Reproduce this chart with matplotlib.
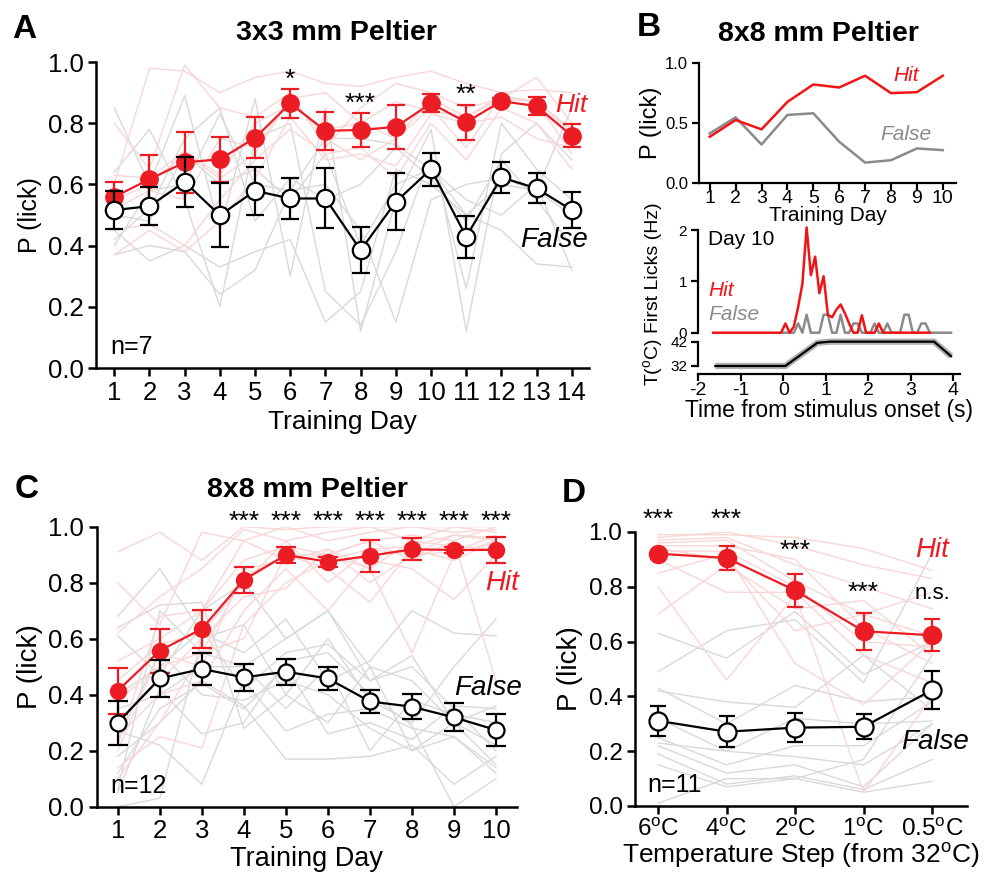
import matplotlib
matplotlib.use('Agg')
import matplotlib.pyplot as plt
import numpy as np

plt.rcParams['font.family'] = ['Liberation Sans', 'DejaVu Sans']
plt.rcParams['mathtext.fontset'] = 'custom'
plt.rcParams['mathtext.rm'] = 'Liberation Sans'
plt.rcParams['mathtext.it'] = 'Liberation Sans:italic'
plt.rcParams['axes.unicode_minus'] = False

RED = '#ec1c24'
PINK = '#f9d6d6'
LGRAY = '#d9d9d9'
BRED = '#f01414'
BGRAY = '#8a8a8a'

# ---- panel A: 3x3 mm Peltier, 14 training days, n=7 ----
days_a = list(range(1, 15))
hit_a = [0.559, 0.617, 0.672, 0.682, 0.752, 0.865, 0.775, 0.778, 0.788, 0.865, 0.803, 0.872, 0.856, 0.759]
hit_a_err = [0.05, 0.079, 0.10, 0.074, 0.067, 0.047, 0.062, 0.055, 0.071, 0.03, 0.057, 0.01, 0.03, 0.038]
false_a = [0.516, 0.529, 0.608, 0.499, 0.579, 0.554, 0.554, 0.385, 0.543, 0.650, 0.429, 0.623, 0.587, 0.516]
false_a_err = [0.063, 0.063, 0.082, 0.104, 0.079, 0.068, 0.098, 0.076, 0.093, 0.054, 0.068, 0.051, 0.049, 0.058]
hit_a_mice = [
    [0.60, 0.98, 0.97, 0.90, 0.95, 0.97, 0.93, 0.92, 0.95, 0.97, 0.93, 0.90, 0.91, 0.90],
    [0.80, 0.65, 0.99, 0.85, 0.82, 0.90, 0.72, 0.85, 0.93, 0.90, 0.85, 0.88, 0.95, 0.80],
    [0.55, 0.60, 0.70, 0.62, 0.70, 0.88, 0.90, 0.80, 0.75, 0.85, 0.72, 0.89, 0.87, 0.70],
    [0.45, 0.47, 0.40, 0.55, 0.68, 0.78, 0.70, 0.72, 0.62, 0.80, 0.68, 0.85, 0.80, 0.65],
    [0.37, 0.45, 0.38, 0.48, 0.62, 0.82, 0.68, 0.70, 0.66, 0.83, 0.80, 0.82, 0.75, 0.72],
    [0.52, 0.58, 0.55, 0.75, 0.72, 0.88, 0.75, 0.68, 0.75, 0.88, 0.82, 0.88, 0.87, 0.78],
    [0.63, 0.62, 0.71, 0.63, 0.80, 0.86, 0.78, 0.80, 0.87, 0.84, 0.82, 0.89, 0.87, 0.77],
]
false_a_mice = [
    [0.85, 0.60, 0.89, 0.45, 0.88, 0.30, 0.85, 0.12, 0.55, 0.78, 0.12, 0.70, 0.80, 0.68],
    [0.64, 0.78, 0.55, 0.20, 0.75, 0.80, 0.25, 0.14, 0.38, 0.70, 0.26, 0.80, 0.65, 0.55],
    [0.45, 0.35, 0.40, 0.33, 0.38, 0.42, 0.15, 0.25, 0.65, 0.60, 0.50, 0.45, 0.34, 0.33],
    [0.37, 0.40, 0.38, 0.24, 0.32, 0.58, 0.60, 0.45, 0.15, 0.55, 0.60, 0.62, 0.58, 0.50],
    [0.42, 0.52, 0.75, 0.85, 0.48, 0.62, 0.55, 0.60, 0.72, 0.62, 0.48, 0.68, 0.55, 0.40],
    [0.50, 0.48, 0.70, 0.60, 0.65, 0.55, 0.70, 0.40, 0.60, 0.65, 0.55, 0.50, 0.60, 0.32],
    [0.40, 0.58, 0.60, 0.83, 0.60, 0.58, 0.75, 0.75, 0.73, 0.65, 0.50, 0.60, 0.58, 0.85],
]
stars_a = {6: ('*', 0.957), 8: ('***', 0.878), 11: ('**', 0.908)}

# ---- panel B: single mouse, 8x8 mm ----
days_b = list(range(1, 11))
hit_b = [0.385, 0.525, 0.447, 0.676, 0.821, 0.796, 0.894, 0.749, 0.757, 0.894]
false_b = [0.413, 0.547, 0.321, 0.567, 0.581, 0.344, 0.170, 0.190, 0.288, 0.274]

# first-lick histograms on day 10 (bin centres in s)
lick_hit_t = np.round(np.arange(-1.65, 3.5, 0.1), 2)
lick_hit = [0] * 17 + [0.18, 0, 0.12, 0.5, 0.95, 2.05, 1.12, 1.48, 0.77, 1.1,
                       0.35, 0.3, 0.45, 0.55, 0.38, 0.18, 0, 0, 0.34, 0, 0, 0, 0.18] + [0] * 12
lick_false_t = np.round(np.arange(-0.05, 4.0, 0.1), 2)
lick_false = [0, 0, 0, 0, 0.18, 0, 0.35, 0, 0, 0, 0.35, 0.35, 0, 0, 0.35, 0, 0, 0.18, 0.18, 0,
              0, 0, 0.18, 0, 0, 0.18, 0, 0, 0, 0.35, 0.35, 0, 0, 0.18, 0.18, 0, 0, 0, 0, 0, 0]
temp_t = [-1.6, 0.05, 0.8, 1.1, 3.55, 3.95]
temp_c = [32, 32, 41.5, 42, 42, 36]

# ---- panel C: 8x8 mm Peltier, 10 days, n=12 ----
days_c = list(range(1, 11))
hit_c = [0.414, 0.557, 0.635, 0.810, 0.899, 0.875, 0.896, 0.919, 0.917, 0.917]
hit_c_err = [0.082, 0.079, 0.067, 0.047, 0.03, 0.018, 0.056, 0.039, 0.01, 0.045]
false_c = [0.300, 0.458, 0.492, 0.462, 0.482, 0.458, 0.376, 0.357, 0.319, 0.274]
false_c_err = [0.079, 0.066, 0.056, 0.048, 0.047, 0.042, 0.041, 0.045, 0.05, 0.056]
hit_c_mice = [
    [0.91, 0.98, 0.88, 1.00, 0.99, 1.00, 1.00, 1.00, 1.00, 1.00],
    [0.80, 0.65, 0.98, 0.95, 1.00, 0.95, 0.98, 1.00, 0.98, 0.99],
    [0.62, 0.75, 0.85, 0.99, 0.95, 0.98, 1.00, 0.95, 1.00, 0.98],
    [0.52, 0.60, 0.70, 0.88, 0.93, 0.90, 0.95, 0.97, 0.95, 1.00],
    [0.45, 0.58, 0.62, 0.80, 0.95, 0.80, 0.92, 0.90, 0.97, 0.96],
    [0.38, 0.50, 0.55, 0.82, 0.90, 0.85, 0.73, 0.92, 0.88, 0.95],
    [0.30, 0.45, 0.60, 0.75, 0.78, 0.92, 0.85, 0.95, 0.93, 0.92],
    [0.25, 0.40, 0.45, 0.70, 0.85, 0.70, 0.88, 0.85, 0.74, 0.90],
    [0.20, 0.55, 0.50, 0.85, 0.88, 0.90, 0.95, 0.88, 0.95, 0.45],
    [0.14, 0.25, 0.21, 0.65, 0.80, 0.88, 0.92, 0.93, 0.97, 0.95],
    [0.10, 0.30, 0.55, 0.60, 0.90, 0.90, 0.85, 0.55, 0.90, 0.95],
    [0.22, 0.68, 0.70, 0.95, 0.88, 0.92, 0.80, 0.90, 0.91, 0.97],
]
false_c_mice = [
    [0.68, 0.85, 0.62, 0.55, 0.67, 0.45, 0.52, 0.70, 0.62, 0.61],
    [0.64, 0.72, 0.73, 0.28, 0.40, 0.60, 0.38, 0.30, 0.50, 0.67],
    [0.61, 0.47, 0.70, 0.80, 0.60, 0.70, 0.50, 0.45, 0.30, 0.36],
    [0.40, 0.50, 0.63, 0.42, 0.55, 0.58, 0.45, 0.54, 0.30, 0.22],
    [0.35, 0.40, 0.50, 0.50, 0.35, 0.50, 0.20, 0.38, 0.33, 0.30],
    [0.27, 0.22, 0.08, 0.45, 0.27, 0.33, 0.35, 0.28, 0.25, 0.12],
    [0.24, 0.55, 0.40, 0.38, 0.45, 0.40, 0.28, 0.20, 0.25, 0.14],
    [0.18, 0.30, 0.45, 0.36, 0.17, 0.17, 0.18, 0.22, 0.08, 0.18],
    [0.12, 0.35, 0.44, 0.35, 0.50, 0.26, 0.30, 0.24, 0.36, 0.35],
    [0.05, 0.42, 0.26, 0.30, 0.52, 0.55, 0.40, 0.29, 0.00, 0.10],
    [0.00, 0.03, 0.60, 0.65, 0.40, 0.30, 0.50, 0.20, 0.30, 0.15],
    [0.06, 0.70, 0.55, 0.50, 0.60, 0.70, 0.45, 0.50, 0.35, 0.20],
]

# ---- panel D: temperature steps, n=11 ----
steps_d = ['6$^{\\mathrm{o}}$C', '4$^{\\mathrm{o}}$C', '2$^{\\mathrm{o}}$C', '1$^{\\mathrm{o}}$C', '0.5$^{\\mathrm{o}}$C']
hit_d = [0.921, 0.905, 0.787, 0.638, 0.623]
hit_d_err = [0.01, 0.043, 0.059, 0.068, 0.058]
false_d = [0.311, 0.271, 0.286, 0.289, 0.423]
false_d_err = [0.054, 0.057, 0.054, 0.045, 0.069]
hit_d_mice = [
    [0.99, 0.99, 0.98, 0.94, 0.86],
    [0.98, 1.00, 0.95, 0.88, 0.83],
    [0.97, 0.98, 0.88, 0.80, 0.72],
    [0.96, 0.97, 0.82, 0.70, 0.62],
    [0.95, 0.95, 0.90, 0.65, 0.52],
    [0.94, 0.90, 0.64, 0.70, 0.78],
    [0.93, 0.93, 0.80, 0.60, 0.58],
    [0.90, 0.78, 0.78, 0.55, 0.45],
    [0.85, 0.92, 0.52, 0.37, 0.60],
    [0.80, 0.46, 0.77, 0.05, 0.40],
    [0.70, 0.88, 0.72, 0.75, 0.55],
]
false_d_mice = [
    [0.63, 0.54, 0.71, 0.48, 0.60],
    [0.49, 0.64, 0.68, 0.45, 0.92],
    [0.43, 0.30, 0.44, 0.38, 0.40],
    [0.42, 0.38, 0.36, 0.55, 0.35],
    [0.32, 0.20, 0.32, 0.30, 0.31],
    [0.25, 0.15, 0.22, 0.22, 0.38],
    [0.23, 0.20, 0.18, 0.15, 0.30],
    [0.22, 0.12, 0.15, 0.07, 0.30],
    [0.19, 0.08, 0.11, 0.06, 0.17],
    [0.15, 0.07, 0.10, 0.05, 0.09],
    [0.01, 0.10, 0.10, 0.17, 0.55],
]
stars_d = [('***', 1.061), ('***', 1.061), ('***', 0.948), ('***', 0.793), ('n.s.', 0.775)]

W, H = 984, 873
STAR_DROP = 0.016   # asterisks sit high in the text box


def box(x0, y_top, x1, y_bot):
    # pixel box -> figure fraction
    return [x0 / W, 1 - y_bot / H, (x1 - x0) / W, (y_bot - y_top) / H]


def ftext(fig, x, y, s, **kw):
    fig.text(x / W, 1 - y / H, s, **kw)


def style(ax, fs, lw=1.8, length=6):
    for s in ['top', 'right']:
        ax.spines[s].set_visible(False)
    for s in ['left', 'bottom']:
        ax.spines[s].set_linewidth(lw)
    ax.tick_params(width=lw, length=length, labelsize=fs, direction='out', pad=3)


def mean_plot(ax, x, hit, hit_err, fa, fa_err, ms, cap):
    ax.errorbar(x, hit, yerr=hit_err, fmt='-o', color=RED, mfc=RED, mec=RED, ms=ms,
                lw=1.6, elinewidth=1.6, capsize=cap, capthick=1.6, zorder=3)
    ax.errorbar(x, fa, yerr=fa_err, fmt='-o', color='k', mfc='white', mec='k', mew=1.6, ms=ms,
                lw=1.6, elinewidth=1.6, capsize=cap, capthick=1.6, zorder=4)


fig = plt.figure(figsize=(W / 100, H / 100), dpi=100)

# ---------------- A ----------------
ax1 = fig.add_axes(box(96, 62, 589, 368))
for m in false_a_mice:
    ax1.plot(days_a, m, color=LGRAY, lw=1.0, zorder=1)
for m in hit_a_mice:
    ax1.plot(days_a, m, color=PINK, lw=1.0, zorder=1)
mean_plot(ax1, days_a, hit_a, hit_a_err, false_a, false_a_err, 12.5, 6.5)
ax1.set_xlim(0.48, 14.49)
ax1.set_ylim(0, 1)
ax1.set_xticks(days_a)
ax1.set_yticks([0, 0.2, 0.4, 0.6, 0.8, 1.0])
ax1.set_yticklabels(['0.0', '0.2', '0.4', '0.6', '0.8', '1.0'])
style(ax1, 18.5)
ax1.set_xlabel('Training Day', fontsize=19, labelpad=4)
ax1.set_ylabel('P (lick)', fontsize=18, labelpad=4)
for d, (s, y) in stars_a.items():
    ax1.text(d, y - STAR_DROP, s, ha='center', va='center', fontsize=19)
ax1.text(14.45, 0.859, 'Hit', color=RED, style='italic', fontsize=19, ha='right', va='center')
ax1.text(14.45, 0.418, 'False', color='k', style='italic', fontsize=20, ha='right', va='center')
ax1.text(0.88, 0.045, 'n=7', fontsize=18, ha='left', va='baseline')
ftext(fig, 12, 29, 'A', fontsize=24, fontweight='bold', ha='left', va='center')
ftext(fig, 336, 33, '3x3 mm Peltier', fontsize=20.5, fontweight='bold', ha='center', va='center')

# ---------------- B top ----------------
ax2 = fig.add_axes(box(699, 63, 956, 183))
ax2.plot(days_b, false_b, color=BGRAY, lw=1.8)
ax2.plot(days_b, hit_b, color=BRED, lw=1.8)
ax2.set_xlim(0.586, 10.51)
ax2.set_ylim(0, 1)
ax2.set_xticks(days_b)
ax2.set_yticks([0, 0.5, 1.0])
ax2.set_yticklabels(['0.0', '0.5', '1.0'])
style(ax2, 12, lw=1.6, length=5)
ax2.tick_params(axis='x', labelsize=14, pad=0)
ax2.set_xlabel('Training Day', fontsize=15, labelpad=-1)
ax2.set_ylabel('P (lick)', fontsize=17, labelpad=2)
ax2.text(8.58, 0.894, 'Hit', color=BRED, style='italic', fontsize=15, ha='center', va='center')
ax2.text(8.57, 0.40, 'False', color=BGRAY, style='italic', fontsize=15, ha='center', va='center')
ftext(fig, 637, 28, 'B', fontsize=24, fontweight='bold', ha='left', va='center')
ftext(fig, 818, 34, '8x8 mm Peltier', fontsize=20.5, fontweight='bold', ha='center', va='center')

# ---------------- B bottom: licks + temperature ----------------
ax3 = fig.add_axes(box(698.3, 226, 960, 336))
ax3.plot(lick_false_t, lick_false, color=BGRAY, lw=1.8)
ax3.plot(lick_hit_t, lick_hit, color=BRED, lw=1.8, clip_on=False)
ax3.set_xlim(-2, 4.16)
ax3.set_ylim(-0.064, 2.078)
ax3.spines['bottom'].set_visible(False)
style(ax3, 11, lw=1.6, length=5)
ax3.spines['left'].set_bounds(0, 2)
ax3.set_xticks([])
ax3.set_yticks([0, 1, 2])
ax3.text(-1.77, 1.82, 'Day 10', fontsize=15, ha='left', va='center')
ax3.text(-1.77, 0.83, 'Hit', color=BRED, style='italic', fontsize=15, ha='left', va='center')
ax3.text(-1.77, 0.36, 'False', color=BGRAY, style='italic', fontsize=15, ha='left', va='center')

ax4 = fig.add_axes(box(698.3, 338, 960, 374))
ax4.plot(temp_t, temp_c, color='#b0b0b0', lw=4.5, solid_capstyle='butt')
ax4.plot(temp_t, temp_c, color='k', lw=1.6)
ax4.set_xlim(-2, 4.16)
ax4.set_ylim(28.7, 43.5)
style(ax4, 11, lw=1.6, length=5)
ax4.spines['left'].set_bounds(32, 42)
ax4.spines['bottom'].set_bounds(-2, 4.16)
ax4.set_yticks([32, 42])
ax4.set_xticks([-2, -1, 0, 1, 2, 3, 4])
ax4.tick_params(axis='x', labelsize=14, pad=1)
ax4.set_xlabel('Time from stimulus onset (s)', fontsize=16.5, labelpad=0)
ftext(fig, 653, 268, 'First Licks (Hz)', fontsize=14, rotation=90, ha='center', va='center')
ftext(fig, 653, 362, 'T($^{\\mathrm{o}}$C)', fontsize=14, rotation=90, ha='center', va='center')

# ---------------- C ----------------
ax5 = fig.add_axes(box(96.7, 526.7, 517, 806.7))
for m in false_c_mice:
    ax5.plot(days_c, m, color=LGRAY, lw=1.0, zorder=1)
for m in hit_c_mice:
    ax5.plot(days_c, m, color=PINK, lw=1.0, zorder=1)
mean_plot(ax5, days_c, hit_c, hit_c_err, false_c, false_c_err, 11.5, 7)
ax5.set_xlim(0.5, 10.5)
ax5.set_ylim(0, 1)
ax5.set_xticks(days_c)
ax5.set_yticks([0, 0.2, 0.4, 0.6, 0.8, 1.0])
ax5.set_yticklabels(['0.0', '0.2', '0.4', '0.6', '0.8', '1.0'])
style(ax5, 18.5)
ax5.set_xlabel('Training Day', fontsize=19.5, labelpad=2)
ax5.set_ylabel('P (lick)', fontsize=20, labelpad=4)
for d in days_c[3:]:
    ax5.text(d, 1.033 - STAR_DROP, '***', ha='center', va='center', fontsize=19)
ax5.text(10.55, 0.80, 'Hit', color=RED, style='italic', fontsize=20, ha='right', va='center')
ax5.text(10.62, 0.423, 'False', color='k', style='italic', fontsize=20, ha='right', va='center')
ax5.text(0.82, 0.05, 'n=12', fontsize=18, ha='left', va='baseline')
ftext(fig, 15, 489, 'C', fontsize=24, fontweight='bold', ha='left', va='center')
ftext(fig, 307, 490, '8x8 mm Peltier', fontsize=20.5, fontweight='bold', ha='center', va='center')

# ---------------- D ----------------
pos_d = list(range(len(steps_d)))
ax6 = fig.add_axes(box(635, 532, 967, 806))
for m in false_d_mice:
    ax6.plot(pos_d, m, color=LGRAY, lw=1.0, zorder=1)
for m in hit_d_mice:
    ax6.plot(pos_d, m, color=PINK, lw=1.0, zorder=1)
mean_plot(ax6, pos_d, hit_d, hit_d_err, false_d, false_d_err, 13, 6)
ax6.set_xlim(-0.336, 4.51)
ax6.set_ylim(0, 1)
ax6.set_xticks(pos_d)
ax6.set_xticklabels(steps_d)
ax6.set_yticks([0, 0.2, 0.4, 0.6, 0.8, 1.0])
ax6.set_yticklabels(['0.0', '0.2', '0.4', '0.6', '0.8', '1.0'])
style(ax6, 17.5)
ax6.set_xlabel('Temperature Step (from 32$^{\\mathrm{o}}$C)', fontsize=19, labelpad=0)
ax6.set_ylabel('P (lick)', fontsize=20, labelpad=4)
for p, (s, y) in zip(pos_d, stars_d):
    if s == '***':
        ax6.text(p, y - STAR_DROP, s, ha='center', va='center', fontsize=19)
    else:
        ax6.text(p, y, s, ha='center', va='center', fontsize=16)
ax6.text(4.0, 0.936, 'Hit', color=RED, style='italic', fontsize=20, ha='center', va='center')
ax6.text(4.04, 0.235, 'False', color='k', style='italic', fontsize=20, ha='center', va='center')
ax6.text(-0.15, 0.052, 'n=11', fontsize=18, ha='left', va='baseline')
ftext(fig, 562, 493, 'D', fontsize=24, fontweight='bold', ha='left', va='center')

fig.savefig('out.png', dpi=100)
